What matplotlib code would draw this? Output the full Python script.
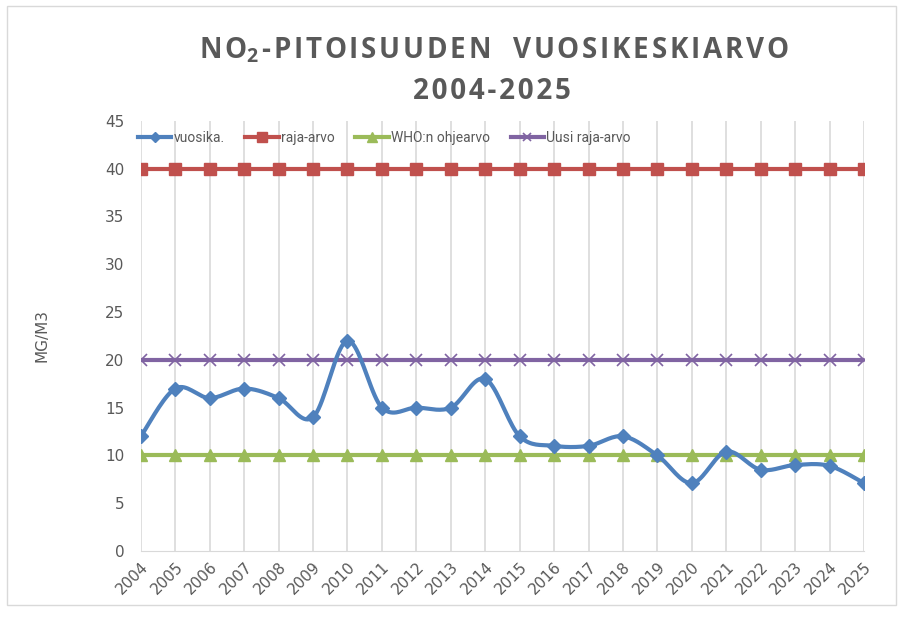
import numpy as np
import matplotlib
matplotlib.use("Agg")
import matplotlib.pyplot as plt
from matplotlib.patches import Rectangle

plt.rcParams["mathtext.fontset"] = "custom"
plt.rcParams["mathtext.rm"] = "Open Sans"
plt.rcParams["mathtext.bf"] = "Open Sans:bold"

years = [str(y) for y in range(2004, 2026)]
vuosika = [12, 17, 16, 17, 16, 14, 22, 15, 15, 15, 18, 12, 11, 11, 12, 10, 7.1, 10.4, 8.5, 9.0, 8.9, 7.1]
raja_arvo = [40] * len(years)
who_ohjearvo = [10] * len(years)
uusi_raja_arvo = [20] * len(years)

def smooth(xs, ys, n=20):
    xs = np.asarray(xs, float); ys = np.asarray(ys, float)
    px = np.concatenate([[xs[0]], xs, [xs[-1]]])
    py = np.concatenate([[ys[0]], ys, [ys[-1]]])
    ox, oy = [], []
    for i in range(1, len(px) - 2):
        p0 = np.array([px[i], py[i]]); p1 = np.array([px[i+1], py[i+1]])
        c1 = p0 + (np.array([px[i+1], py[i+1]]) - np.array([px[i-1], py[i-1]])) / 6
        c2 = p1 - (np.array([px[i+2], py[i+2]]) - np.array([px[i], py[i]])) / 6
        t = np.linspace(0, 1, n)[:, None]
        b = (1-t)**3*p0 + 3*(1-t)**2*t*c1 + 3*(1-t)*t**2*c2 + t**3*p1
        ox.extend(b[:, 0]); oy.extend(b[:, 1])
    return np.array(ox), np.array(oy)

def spaced(s):
    return "\u200a".join(s)

fig = plt.figure(figsize=(9.09, 6.17), dpi=100)
fig.patches.append(Rectangle((0.008, 0.02), 0.978, 0.97, transform=fig.transFigure,
                             fill=False, edgecolor="#d9d9d9", linewidth=1))
ax = fig.add_axes([0.155, 0.107, 0.7955, 0.697])

x = np.arange(len(years))
grey = "#595959"
ax.plot(x, raja_arvo, color="#c0504d", lw=3, marker="s", ms=9, label="raja-arvo", zorder=3)
ax.plot(x, who_ohjearvo, color="#9bbb59", lw=3, marker="^", ms=9, label="WHO:n ohjearvo", zorder=3)
ax.plot(x, uusi_raja_arvo, color="#8064a2", lw=3, marker="x", ms=8, mew=1.2, label="Uusi raja-arvo", zorder=3)
sx, sy = smooth(x, vuosika)
ax.plot(sx, sy, color="#4f81bd", lw=3, zorder=4)
ax.plot(x, vuosika, ls="none", color="#4f81bd", marker="D", ms=7, zorder=5)
h_v, = ax.plot([], [], color="#4f81bd", lw=3, marker="D", ms=7, label="vuosika.")

ax.set_xlim(0, len(years) - 1)
ax.set_ylim(0, 45)
ax.set_yticks(range(0, 46, 5))
ax.set_xticks(x)
ax.set_xticklabels(years, rotation=45, ha="right", rotation_mode="anchor")
ax.grid(axis="x", color="#d9d9d9", lw=1.2)
ax.set_axisbelow(True)
for s in ["top", "right", "left"]:
    ax.spines[s].set_visible(False)
ax.spines["bottom"].set_color("#d9d9d9")
ax.tick_params(axis="both", length=0, colors=grey, labelsize=11)
ax.tick_params(axis="y", pad=12)
ax.tick_params(axis="x", pad=6)
ax.set_ylabel("MG/M3", color=grey, fontsize=11, labelpad=40)

handles, labels = ax.get_legend_handles_labels()
order = ["vuosika.", "raja-arvo", "WHO:n ohjearvo", "Uusi raja-arvo"]
hm = dict(zip(labels, handles))
ax.legend([hm[k] for k in order], order, loc="center left", bbox_to_anchor=(-0.004, 0.96),
          ncol=4, frameon=False, prop={"family": "Roboto", "size": 10}, labelcolor=grey,
          handlelength=2.4, handletextpad=0.15, columnspacing=1.5, markerscale=0.75,
          borderaxespad=0, borderpad=0)

fig.text(0.543, 0.919, spaced("NO") + r"$_{\mathbf{2}}$" + "\u200a" + spaced("-PITOISUUDEN") + "   " + spaced("VUOSIKESKIARVO"),
         ha="center", va="center", fontsize=20, fontweight="bold", color=grey,
         family=["Open Sans", "DejaVu Sans"])
fig.text(0.541, 0.851, spaced("2004-2025"), ha="center", va="center",
         fontsize=20, fontweight="bold", color=grey, family=["Open Sans", "DejaVu Sans"])

fig.savefig("out.png", dpi=100)
